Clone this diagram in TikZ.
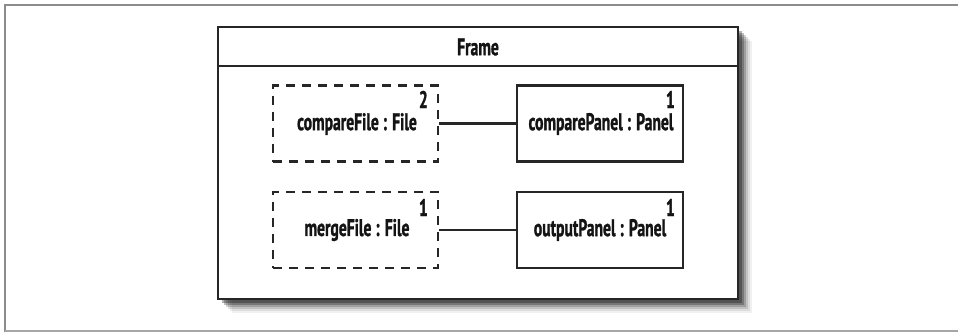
\documentclass[tikz,border=0pt]{standalone}
\usepackage{fontspec}
\setmainfont{PT Sans}[FakeStretch=0.65, BoldFont={PT Sans Bold}, BoldFeatures={FakeStretch=0.65, FakeBold=1.2}]
\begin{document}
\begin{tikzpicture}[x=1pt,y=-1pt,
  lbl/.style={font=\fontsize{24}{26}\selectfont\bfseries, text=black!92, inner sep=0pt},
  mult/.style={font=\fontsize{24}{26}\selectfont\bfseries, text=black!92, inner sep=0pt, anchor=base east},
  filebox/.style={draw=black!85, line width=2.2pt, dash pattern=on 9pt off 7pt, minimum width=165pt, minimum height=76pt, inner sep=0pt},
  panelbox/.style={draw=black!85, line width=2.2pt, minimum width=166pt, minimum height=76pt, inner sep=0pt},
  link/.style={draw=black!85, line width=2.2pt}]
\useasboundingbox (0,0) rectangle (958,332);
\draw[black!45, line width=1.2pt] (5,332) -- (5,5) -- (958,5);
\draw[black!35, line width=1.2pt] (5,331) -- (958,331);
% shadow
\foreach \d/\o in {14/0.06,12/0.08,10/0.12,8/0.18,6/0.25,4/0.3} {
  \fill[black, opacity=\o] (218+\d,27+\d) rectangle (738+\d,299+\d);
}
\fill[white] (218,27) rectangle (738,299);
\node[draw=black!85, line width=2.6pt, minimum width=520pt, minimum height=272pt, inner sep=0pt] (frame) at (478,163) {};
\coordinate (sepL) at (218,66);
\coordinate (sepR) at (738,66);
\draw[black!85, line width=2.2pt] (sepL) -- (sepR);
\node[lbl] (title) at (478,47) {Frame};
% row 1
\node[filebox] (cf) at (355.5,123.5) {};
\node[lbl] (cft) at (357,124) {compareFile : File};
\node[mult] (cfm) at (428,108) {2};
\node[panelbox] (cp) at (600,123.5) {};
\node[lbl] (cpt) at (601,124) {comparePanel : Panel};
\node[mult] (cpm) at (675,108) {1};
\draw[link] (cf.east) -- (cp.west);
% row 2
\node[filebox] (mf) at (355.5,230) {};
\node[lbl] (mft) at (357,230) {mergeFile : File};
\node[mult] (mfm) at (428,216) {1};
\node[panelbox] (op) at (600,230) {};
\node[lbl] (opt) at (600,230) {outputPanel : Panel};
\node[mult] (opm) at (675,216) {1};
\draw[link] (mf.east) -- (op.west);
\end{tikzpicture}
\end{document}
